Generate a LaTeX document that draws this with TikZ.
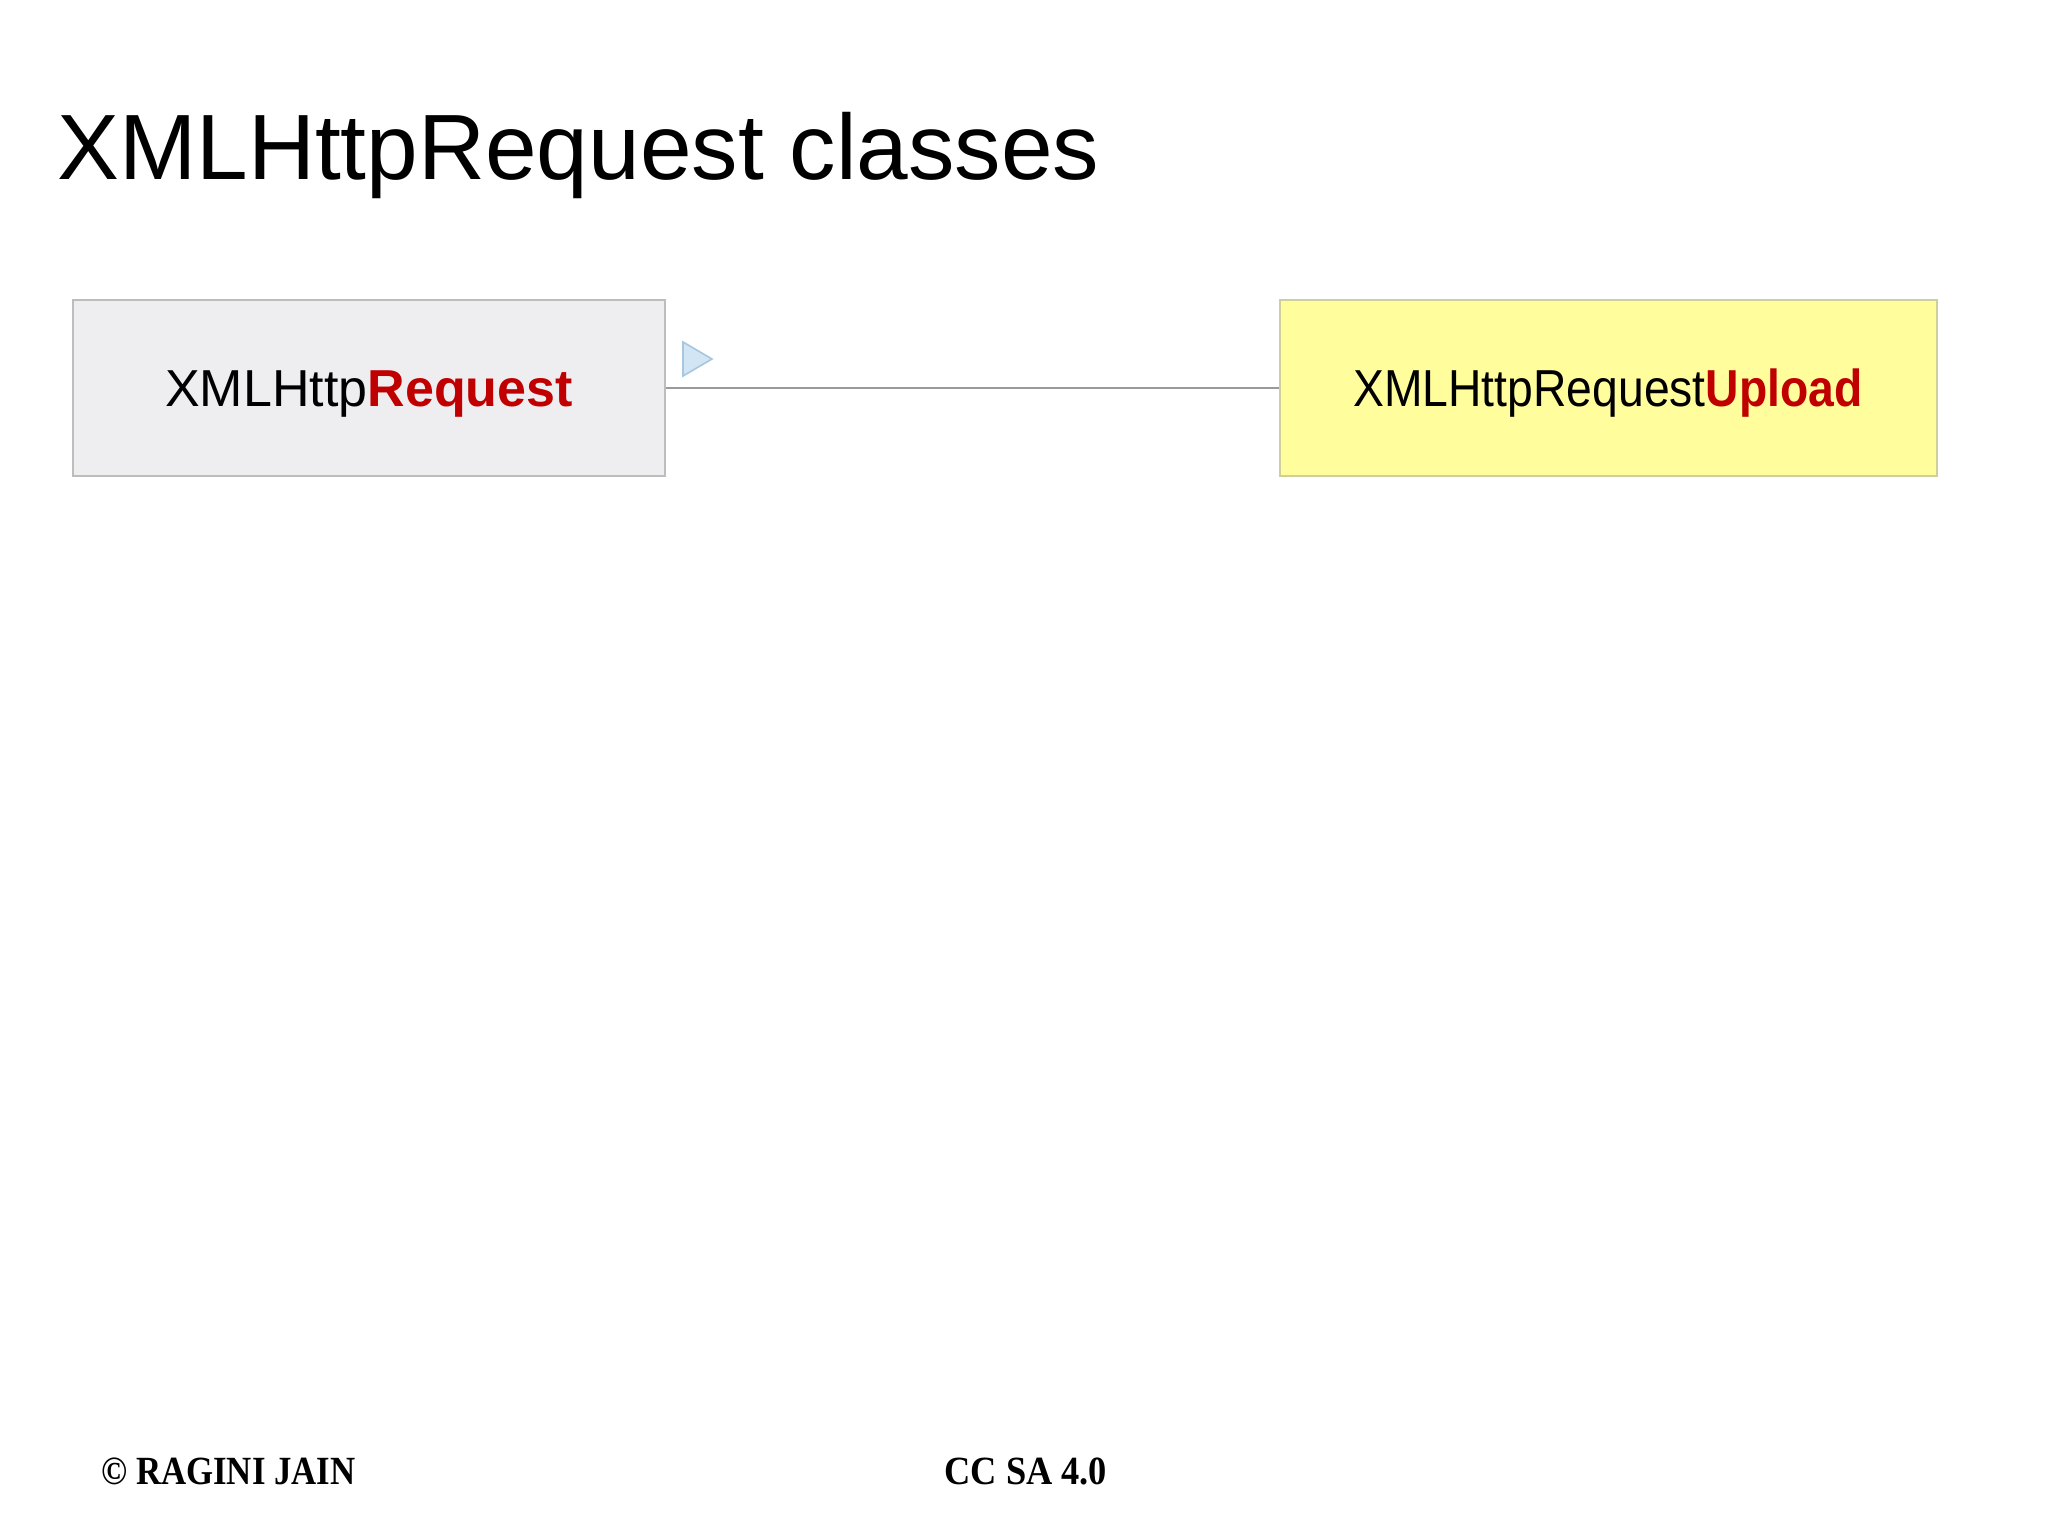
\documentclass[tikz,border=0pt]{standalone}
\usepackage{fontspec}
\setmainfont{Liberation Sans}
\newfontfamily\footfont{Liberation Serif}
\usetikzlibrary{calc}
\definecolor{boxgray}{HTML}{EEEEF0}
\definecolor{boxgrayline}{HTML}{BDBDBD}
\definecolor{boxyellow}{HTML}{FFFD9C}
\definecolor{boxyellowline}{HTML}{CFCF9A}
\definecolor{hired}{HTML}{C00000}
\definecolor{tripfill}{HTML}{D2E5F4}
\definecolor{tripline}{HTML}{A8C6DF}
\definecolor{linkgray}{HTML}{9A9A9A}
\tikzset{
  classbox/.style={draw=boxgrayline, line width=1pt, fill=boxgray, minimum width=296pt, minimum height=88pt, inner sep=0pt, anchor=north west},
  boxtext/.style={font=\fontsize{26pt}{30pt}\selectfont, inner sep=0pt, anchor=base},
  foot/.style={font=\footfont\bfseries\fontsize{20pt}{22pt}\selectfont, inner sep=0pt, anchor=base west}
}
\begin{document}
\begin{tikzpicture}[x=0.5pt,y=-0.5pt]
\useasboundingbox[fill=white] (0,0) rectangle (2048,1535);
\node[inner sep=0pt, anchor=base west, font=\fontsize{46.4pt}{52pt}\selectfont] (title) at (57,180) {XMLHttpRequest classes};
\node[classbox] (L) at (72,299) {};
\node[classbox, fill=boxyellow, draw=boxyellowline, minimum width=328.5pt] (R) at (1279,299) {};
\node[boxtext] (Lt) at (369,406) {XMLHttp\textcolor{hired}{\bfseries Request}};
\node[boxtext, xscale=0.89] (Rt) at (1608,406) {XMLHttpRequest\textcolor{hired}{\bfseries Upload}};
\draw[linkgray, line width=1pt] (L.east) -- (R.west);
\draw[tripline, fill=tripfill, line width=0.8pt, line join=miter]
  ($(L.east)+(17,-46)$) -- ($(L.east)+(17,-12)$) -- ($(L.east)+(46,-29)$) -- cycle;
\node[foot, xscale=0.87] (copy) at (101,1484) {\textcopyright{} RAGINI JAIN};
\node[foot, xscale=0.91] (lic) at (944,1484) {CC SA 4.0};
\end{tikzpicture}
\end{document}
